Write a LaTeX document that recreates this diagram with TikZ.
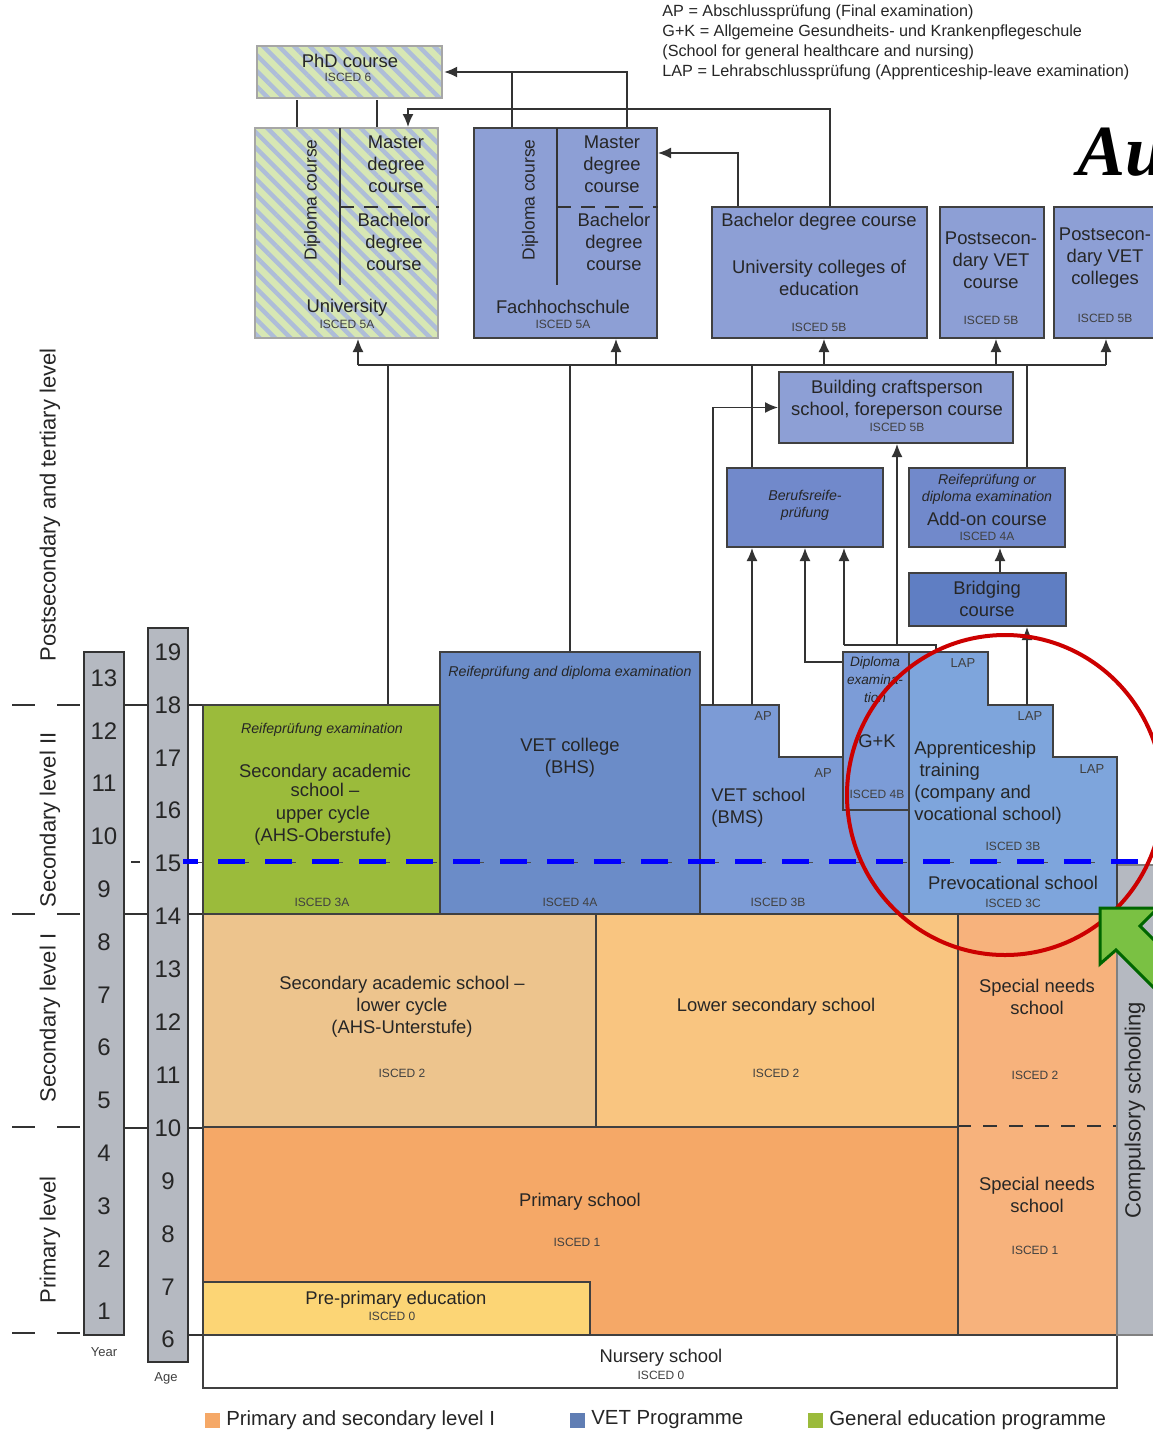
\documentclass[tikz,border=0pt]{standalone}
\usepackage{fontspec}
\setmainfont{Liberation Sans}
\newfontfamily\titlefont{Liberation Serif}
\usetikzlibrary{calc,positioning,fit,patterns.meta,arrows.meta}

\definecolor{prim}{HTML}{F5A867}
\definecolor{spec}{HTML}{F7B27C}
\definecolor{lowsec}{HTML}{F9C580}
\definecolor{ahslow}{HTML}{EDC48D}
\definecolor{preprim}{HTML}{FCD575}
\definecolor{genedu}{HTML}{9BBB3B}
\definecolor{vetcol}{HTML}{6B8CC8}
\definecolor{vetsch}{HTML}{7C9BD6}
\definecolor{appr}{HTML}{7EA5DC}
\definecolor{tert}{HTML}{8D9FD5}
\definecolor{examblue}{HTML}{7189CB}
\definecolor{bridgeblue}{HTML}{5F7EC3}
\definecolor{axisgray}{HTML}{B5B9C1}
\definecolor{hatchA}{HTML}{D7E7B4}
\definecolor{hatchB}{HTML}{AEBDD8}
\definecolor{arrowgreen}{HTML}{7AC143}

\tikzset{
  blk/.style={draw=black!75, line width=1pt, inner sep=0pt},
  hatch/.style={blk, draw=black!35, preaction={fill=hatchA}, pattern={Lines[angle=-45,distance=5.5pt,line width=2.2pt]}, pattern color=hatchB},
  conn/.style={draw=black!80, line width=0.75pt},
  arr/.style={conn, -{Latex[length=6.5pt,width=5.5pt]}},
  txt/.style={text=black!85, align=center, inner sep=0pt, font=\fontsize{9.2}{11}\selectfont},
  tight/.style={txt, font=\fontsize{9.2}{8.5}\selectfont},
  isced/.style={text=black!75, inner sep=0pt, font=\fontsize{6}{6}\selectfont},
  examtxt/.style={txt, font=\itshape\fontsize{7.1}{8.5}\selectfont},
  tag/.style={isced, font=\fontsize{6.5}{6.5}\selectfont},
  num/.style={inner sep=0pt, text=black!85, font=\fontsize{12}{12}\selectfont},
  lvl/.style={rotate=90, inner sep=0pt, text=black!85, font=\fontsize{11}{11}\selectfont},
  rot/.style={rotate=90, inner sep=0pt, text=black!85, font=\fontsize{8.7}{8.7}\selectfont},
  sep/.style={draw=black!80, line width=1pt, dash pattern=on 11.5pt off 11pt},
  axisbar/.style={draw=black!80, line width=1.2pt, fill=axisgray, inner sep=0pt},
  legsq/.style={minimum size=7.5pt, inner sep=0pt},
  legtxt/.style={inner sep=0pt, text=black!85, font=\fontsize{10.2}{10.2}\selectfont},
}

\begin{document}
\begin{tikzpicture}[x=0.5pt,y=-0.5pt]
\useasboundingbox (0,0) rectangle (1153,1432);
\fill[white] (0,0) rectangle (1153,1432);
\begin{scope}
\clip (0,0) rectangle (1153,1432);

% abbreviations and title
\node[anchor=north west, align=left, inner sep=0pt, text=black!85, font=\fontsize{8.1}{10}\selectfont] (abbr) at (662,4) {AP = Abschlussprüfung (Final examination)\\G+K = Allgemeine Gesundheits- und Krankenpflegeschule\\(School for general healthcare and nursing)\\LAP = Lehrabschlussprüfung (Apprenticeship-leave examination)};
\node[anchor=base west, inner sep=0pt, font=\titlefont\bfseries\itshape\fontsize{36}{36}\selectfont] (title) at (1077,175) {Au};

% level labels
\node[lvl] (lpost) at (50,505) {Postsecondary and tertiary level};
\node[lvl] (lsec2) at (50,820) {Secondary level II};
\node[lvl] (lsec1) at (50,1018) {Secondary level I};
\node[lvl] (lprim) at (50,1240) {Primary level};
\foreach \y in {705,914,1127,1333}
  \draw[sep] (12,\y) -- (80,\y);

% year and age bars
\node[axisbar, fit={(84,652) (124,1335)}] (yearbar) {};
\node[axisbar, fit={(148,628) (188,1362)}] (agebar) {};
\foreach \n [count=\i from 0] in {13,12,...,1}
  \node[num] (yr\n) at (104,678+52.8*\i) {\n};
\foreach \a [count=\i from 0] in {19,18,...,6}
  \node[num] (ag\a) at (168,652+52.9*\i) {\a};
\node[tag] (yrlab) at (104,1352) {Year};
\node[tag] (aglab) at (166,1378) {Age};
\foreach \y in {705,914,1128}
  \draw[conn] (124,\y) -- (148,\y);
\foreach \y in {705,914,1128,1335}
  \draw[conn] (188,\y) -- (203,\y);
\draw[conn] (131,862) -- (140,862);

% primary and secondary level I
\node[blk, fill=white, fit={(203,1335) (1117,1388)}] (nursery) {};
\node[blk, fill=prim, fit={(203,1127) (958,1335)}] (primary) {};
\node[blk, fill=preprim, fit={(203,1282) (590,1335)}] (preprim) {};
\node[blk, fill=spec, fit={(958,914) (1117,1335)}] (special) {};
\draw[conn, line width=0.9pt, dash pattern=on 7pt off 6pt] (special.west |- primary.north) -- (special.east |- primary.north);
\node[blk, fill=ahslow, fit={(203,914) (596,1127)}] (ahslow) {};
\node[blk, fill=lowsec, fit={(596,914) (958,1127)}] (lowsec) {};
\node[blk, draw=black!50, fill=axisgray, fit={(1117,865) (1170,1335)}] (compul) {};

% secondary level II
\node[blk, fill=genedu, fit={(203,705) (440,914)}] (ahsup) {};
\node[blk, fill=vetcol, fit={(440,652) (700,914)}] (bhs) {};
\draw[blk, fill=vetsch] (700,705) -- (779,705) -- (779,757) -- (843,757) -- (843,810) -- (909,810) -- (909,914) -- (700,914) -- cycle;
\draw[blk, fill=appr] (909,652) -- (988,652) -- (988,705) -- (1053,705) -- (1053,757) -- (1117,757) -- (1117,914) -- (909,914) -- cycle;
\node[blk, fill=vetsch!85!appr, fit={(843,652) (909,810)}] (gk) {};

% postsecondary and tertiary
\node[hatch, fit={(257,46) (442,98)}] (phd) {};
\node[hatch, fit={(255,128) (438,338)}] (uni) {};
\draw[conn, line width=1pt] (340,128) -- (340,285);
\draw[conn, line width=1pt, dash pattern=on 7pt off 5pt] (340,207) -- (uni.east |- 0,207);
\node[blk, fill=tert, fit={(474,128) (657,338)}] (fh) {};
\draw[conn, line width=1pt] (557,128) -- (557,285);
\draw[conn, line width=1pt, dash pattern=on 7pt off 5pt] (557,207) -- (fh.east |- 0,207);
\node[blk, fill=tert, fit={(712,207) (927,338)}] (bach) {};
\node[blk, fill=tert, fit={(940,207) (1044,338)}] (pvc) {};
\node[blk, fill=tert, fit={(1054,207) (1170,338)}] (pvcol) {};
\node[blk, fill=tert, fit={(779,372) (1013,443)}] (build) {};
\node[blk, fill=examblue, fit={(727,468) (883,547)}] (brp) {};
\node[blk, fill=examblue, fit={(909,468) (1065,547)}] (addon) {};
\node[blk, fill=bridgeblue, fit={(909,573) (1066,626)}] (bridge) {};

% connectors at the top
\coordinate (p1) at (297,0);
\coordinate (p2) at (377,0);
\draw[conn] (p1 |- phd.south) -- (p1 |- uni.north);
\draw[conn] (p2 |- phd.south) -- (p2 |- uni.north);
\coordinate (f1) at (512,0);
\coordinate (f2) at (627,0);
\draw[arr] (f2 |- fh.north) |- (phd.east);
\draw[conn] (f1 |- fh.north) -- (f1 |- phd.east);
\coordinate (m1) at (408,109);
\coordinate (b1) at (830,0);
\draw[arr] (b1 |- bach.north) |- (m1) -- (m1 |- uni.north);
\coordinate (b2) at (738,0);
\coordinate (fhin) at (0,153);
\draw[arr] (b2 |- bach.north) |- (fh.east |- fhin);

% bus below the tertiary level
\coordinate (busL) at (358,365);
\coordinate (busR) at (1106,365);
\coordinate (tFH) at (616,365);
\coordinate (tBA) at (824,365);
\coordinate (tPV) at (996,365);
\coordinate (tAHS) at (388,365);
\coordinate (tBHS) at (570,365);
\coordinate (tBRP) at (752,365);
\coordinate (tADD) at (1027,365);
\draw[conn] (busL) -- (busR);
\draw[arr] (busL) -- (busL |- uni.south);
\draw[arr] (tFH) -- (tFH |- fh.south);
\draw[arr] (tBA) -- (tBA |- bach.south);
\draw[arr] (tPV) -- (tPV |- pvc.south);
\draw[arr] (busR) -- (busR |- pvcol.south);
\draw[conn] (tAHS |- ahsup.north) -- (tAHS);
\draw[conn] (tBHS |- bhs.north) -- (tBHS);
\draw[conn] (tBRP |- brp.north) -- (tBRP);
\draw[conn] (tADD |- addon.north) -- (tADD);

% connectors from secondary level II
\coordinate (vs1) at (713,705);
\coordinate (vs2) at (752,705);
\draw[arr] (vs1) |- (build.west);
\draw[arr] (vs2) -- (vs2 |- brp.south);
\coordinate (g1) at (805,662);
\draw[arr] (gk.west |- g1) -| (g1 |- brp.south);
\coordinate (aptop) at (936,652);
\coordinate (a1) at (936,645);
\coordinate (a2) at (844,645);
\coordinate (a3) at (897,645);
\draw[conn] (aptop) -- (a1) -- (a2);
\draw[arr] (a2) -- (a2 |- brp.south);
\draw[arr] (a3) -- (a3 |- build.south);
\coordinate (ap2) at (1027,705);
\draw[arr] (ap2) -- (ap2 |- bridge.south);
\coordinate (br1) at (1000,0);
\draw[arr] (br1 |- bridge.north) -- (br1 |- addon.south);

% texts, tertiary
\node[txt] (phdt) at (350,61) {PhD course};
\node[isced] (phdi) at (348,77) {ISCED 6};
\node[rot] (unidc) at (312,200) {Diploma course};
\node[txt] (unim) at (396,164) {Master\\degree\\course};
\node[txt] (unib) at (394,242) {Bachelor\\degree\\course};
\node[txt] (unit) at (347,308) {University};
\node[isced] (unii) at (347,324) {ISCED 5A};
\node[rot] (fhdc) at (530,200) {Diploma course};
\node[txt] (fhm) at (612,164) {Master\\degree\\course};
\node[txt] (fhb) at (614,242) {Bachelor\\degree\\course};
\node[txt] (fht) at (563,307) {Fachhochschule};
\node[isced] (fhi) at (563,324) {ISCED 5A};
\node[txt] (bacht) at (819,222) {Bachelor degree course};
\node[txt] (bachu) at (819,278) {University colleges of\\education};
\node[isced] (bachi) at (819,327) {ISCED 5B};
\node[txt] (pvct) at (991,260) {Postsecon-\\dary VET\\course};
\node[isced] (pvci) at (991,320) {ISCED 5B};
\node[txt] (pvcolt) at (1105,258) {Postsecon-\\dary VET\\colleges};
\node[isced] (pvcoli) at (1105,318) {ISCED 5B};
\node[txt] (buildt) at (897,400) {Building craftsperson\\school, foreperson course};
\node[isced] (buildi) at (897,427) {ISCED 5B};
\node[examtxt] (brpt) at (805,505) {Berufsreife-\\prüfung};
\node[examtxt] (addx) at (987,489) {Reifeprüfung or\\diploma examination};
\node[txt] (addt) at (987,519) {Add-on course};
\node[isced] (addi) at (987,536) {ISCED 4A};
\node[txt] (bridget) at (987,599) {Bridging\\course};

% texts, secondary level II
\node[examtxt] (ahsx) at (322,730) {Reifeprüfung examination};
\node[tight] (ahst) at (325,780) {Secondary academic\\school --};
\node[txt] (ahsu) at (323,826) {upper cycle\\(AHS-Oberstufe)};
\node[isced] (ahsi) at (322,902) {ISCED 3A};
\node[examtxt] (bhsx) at (570,673) {Reifeprüfung and diploma examination};
\node[txt] (bhst) at (570,758) {VET college\\(BHS)};
\node[isced] (bhsi) at (570,902) {ISCED 4A};
\node[tag] (ap1t) at (763,716) {AP};
\node[tag] (ap2t) at (823,773) {AP};
\node[txt, align=left, anchor=west] (bmst) at (711,808) {VET school\\(BMS)};
\node[isced] (bmsi) at (778,902) {ISCED 3B};
\node[examtxt, font=\itshape\fontsize{6.8}{9}\selectfont] (gkx) at (875,680) {Diploma\\examina-\\tion};
\node[txt] (gkt) at (877,741) {G+K};
\node[isced] (gki) at (877,794) {ISCED 4B};
\node[tag] (lap1) at (963,663) {LAP};
\node[tag] (lap2) at (1030,716) {LAP};
\node[tag] (lap3) at (1092,769) {LAP};
\node[txt, align=left, anchor=west] (apprt) at (914,783) {Apprenticeship\\\ training\\(company and\\vocational school)};
\node[isced] (appri) at (1013,846) {ISCED 3B};
\node[txt] (prevt) at (1013,883) {Prevocational school};
\node[isced] (previ) at (1013,903) {ISCED 3C};

% texts, lower levels
\node[txt] (ahslt) at (402,1007) {Secondary academic school --\\lower cycle\\(AHS-Unterstufe)};
\node[isced] (ahsli) at (402,1073) {ISCED 2};
\node[txt] (lowt) at (776,1007) {Lower secondary school};
\node[isced] (lowi) at (776,1073) {ISCED 2};
\node[txt] (spec2t) at (1037,997) {Special needs\\school};
\node[isced] (spec2i) at (1035,1075) {ISCED 2};
\node[txt] (spec1t) at (1037,1195) {Special needs\\school};
\node[isced] (spec1i) at (1035,1250) {ISCED 1};
\node[txt] (primt) at (580,1202) {Primary school};
\node[isced] (primi) at (577,1242) {ISCED 1};
\node[txt] (prept) at (396,1300) {Pre-primary education};
\node[isced] (prepi) at (392,1316) {ISCED 0};
\node[txt] (nurst) at (661,1358) {Nursery school};
\node[isced] (nursi) at (661,1375) {ISCED 0};
\node[lvl] (compt) at (1135,1110) {Compulsory schooling};

% age 15 line
\draw[black!70, line width=0.5pt, dash pattern=on 7pt off 16.5pt] (188,862) -- (1117,862);
\draw[blue, line width=2.5pt, dash pattern=on 13.5pt off 10pt, dash phase=6pt] (183,861) -- (1153,861);

% legend
\node[legsq, fill=prim] (lg1) at (212,1420) {};
\node[legtxt, right=3pt of lg1] (lg1t) {Primary and secondary level I};
\node[legsq, fill=vetcol!90!black] (lg2) at (577,1420) {};
\node[legtxt, right=3pt of lg2] (lg2t) {VET Programme};
\node[legsq, fill=genedu] (lg3) at (815,1420) {};
\node[legtxt, right=3pt of lg3] (lg3t) {General education programme};

% highlight
\draw[red!80!black, line width=2pt] (1005,795) ellipse [x radius=158, y radius=160];
\filldraw[fill=arrowgreen, draw=green!40!black, line width=1.5pt] (1100,908) -- (1158,908) -- (1140,926) -- (1200,986) -- (1176,1010) -- (1116,950) -- (1100,964) -- cycle;
\end{scope}
\end{tikzpicture}
\end{document}
